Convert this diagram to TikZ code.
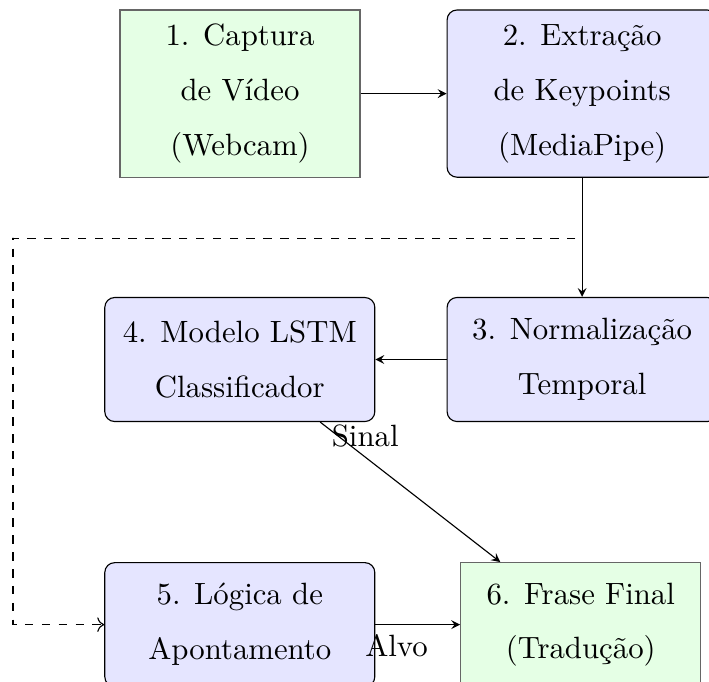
\documentclass[tikz,border=0pt]{standalone}
\usetikzlibrary{positioning,arrows.meta}

\begin{document}
\begin{tikzpicture}[
  etapa/.style={draw, rounded corners=3.5pt, fill=blue!10, minimum width=3.375cm, minimum height=1.55cm, align=center, font=\fontsize{10.95}{19.5}\selectfont},
  extremo/.style={etapa, sharp corners, fill=green!10, draw=black!60, minimum width=3cm},
  seta/.style={-stealth},
  lbl/.style={font=\fontsize{10.95}{13}\selectfont}
]
\useasboundingbox (0,0) rectangle (8.8625,-8.525);

% Linha 1: entrada de video
\node[extremo, minimum height=2.09cm] (captura) at (3,-1.17) {1. Captura\\de Vídeo\\(Webcam)};
\node[etapa, minimum height=2.09cm, right=1.075cm of captura] (extracao) {2. Extração\\de Keypoints\\(MediaPipe)};

% Linha 2: processamento
\node[etapa, below=1.49cm of extracao] (normal) {3. Normalização\\Temporal};
\node[etapa, left=0.89cm of normal] (lstm) {4. Modelo LSTM\\Classificador};

% Linha 3: saida
\node[etapa, below=1.75cm of lstm] (apont) {5. Lógica de\\Apontamento};
\node[extremo, right=1.06cm of apont] (frase) {6. Frase Final\\(Tradução)};

% desvio tracejado
\coordinate (desvio) at (0.1625,-2.975);

\draw[seta] (captura) -- (extracao);
\draw[seta] (extracao) -- (normal);
\draw[seta] (normal) -- (lstm);
\draw[seta] (lstm) -- node[lbl, near start, above] {Sinal} (frase);
\draw[seta] (apont) -- node[lbl, near start, below] {Alvo} (frase);
\draw[dashed, ->] (extracao.south) -- ++(0,-0.76) -| (desvio) |- (apont.west);

\end{tikzpicture}
\end{document}
